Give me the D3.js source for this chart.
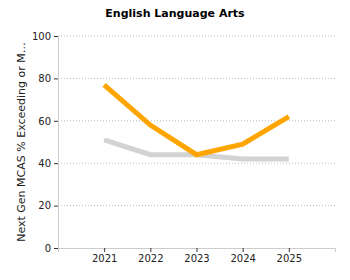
<!DOCTYPE html>
<html>
<head>
<meta charset="utf-8">
<script src="https://cdn.jsdelivr.net/npm/d3@7"></script>
<style>
body { margin: 0; background: #fff; }
text { font-family: "DejaVu Sans", Verdana, sans-serif; }
</style>
</head>
<body>
<svg id="chart" width="350" height="280"></svg>
<script>
var years = [2021, 2022, 2023, 2024, 2025];
var school = [77, 58, 44, 49, 62];
var state = [51, 44, 44, 42, 42];
var yTicks = [0, 20, 40, 60, 80, 100];

var svg = d3.select("#chart"),
    margin = {top: 36, right: 15, bottom: 32, left: 58},
    width = +svg.attr("width") - margin.left - margin.right,
    height = +svg.attr("height") - margin.top - margin.bottom,
    group = svg.append("g").attr("transform", "translate(" + margin.left + "," + margin.top + ")");

var xscale = d3.scaleLinear().domain([2020, 2026]).range([0, width]);
var yscale = d3.scaleLinear().domain([0, 100]).range([height, 0]);

// title
svg.append("text")
    .attr("x", 175)
    .attr("y", 17)
    .attr("text-anchor", "middle")
    .attr("font-size", 11)
    .attr("font-weight", "bold")
    .text("English Language Arts");

// grid
group.append("g")
    .selectAll("line")
    .data(yTicks.filter(function(d) { return d > 0; }))
    .enter().append("line")
    .attr("x1", 0)
    .attr("x2", width)
    .attr("y1", function(d) { return yscale(d); })
    .attr("y2", function(d) { return yscale(d); })
    .attr("stroke", "#bbb")
    .attr("stroke-dasharray", "1,2");

// axes
var xAxis = group.append("g")
    .attr("transform", "translate(0," + height + ")")
    .call(d3.axisBottom(xscale).tickValues(years).tickFormat(d3.format("d")).tickSize(4));
var yAxis = group.append("g")
    .call(d3.axisLeft(yscale).tickValues(yTicks).tickSize(4));

[xAxis, yAxis].forEach(function(a) {
    a.select(".domain").attr("stroke", "#ccc");
    a.selectAll(".tick line").attr("stroke", "#333");
    a.selectAll(".tick text").attr("font-family", "DejaVu Sans, Verdana, sans-serif").attr("font-size", 10).attr("fill", "#222");
});

// y label
svg.append("text")
    .attr("transform", "translate(25," + (margin.top + height / 2) + ") rotate(-90)")
    .attr("text-anchor", "middle")
    .attr("font-size", 11)
    .attr("fill", "#222")
    .text("Next Gen MCAS % Exceeding or M\u2026");

var line = d3.line()
    .x(function(d, i) { return xscale(years[i]); })
    .y(function(d) { return yscale(d); });

group.append("path")
    .datum(state)
    .attr("fill", "none")
    .attr("stroke", "#d3d3d3")
    .attr("stroke-width", 5)
    .attr("d", line);

group.append("path")
    .datum(school)
    .attr("fill", "none")
    .attr("stroke", "#ffa500")
    .attr("stroke-width", 5)
    .attr("d", line);
</script>
</body>
</html>
